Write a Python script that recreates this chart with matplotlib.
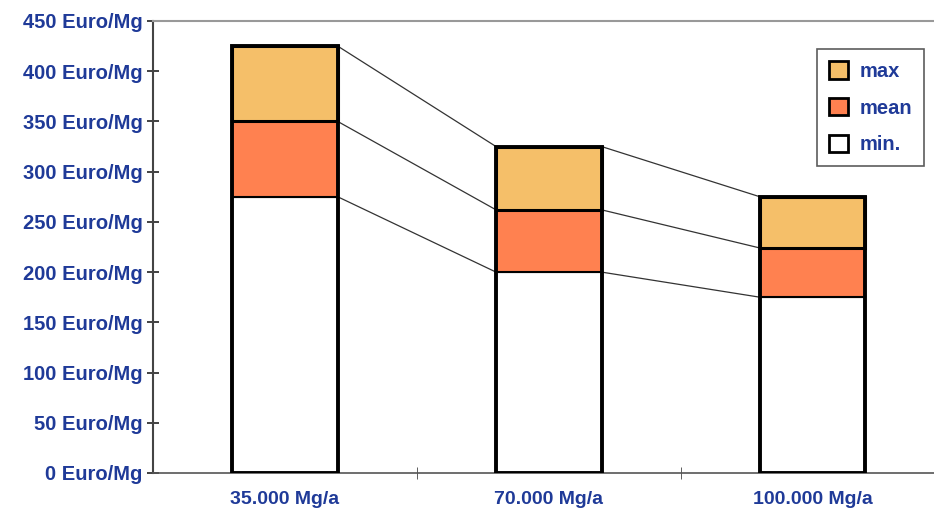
import matplotlib.pyplot as plt
from matplotlib.patches import Patch
import numpy as np

# Treatment cost ranges per plant capacity
capacities = ["35.000 Mg/a", "70.000 Mg/a", "100.000 Mg/a"]
cost_min = [275, 200, 175]
cost_mean = [350, 262, 224]
cost_max = [425, 325, 275]

TEXT_BLUE = "#1F3A98"
MAX_COLOR = "#F5BF69"
MEAN_COLOR = "#FF8150"

plt.rcParams["font.family"] = ["Liberation Sans", "DejaVu Sans"]

fig = plt.figure(figsize=(9.34, 5.18), dpi=100)
ax = fig.add_axes([0.1638, 0.0869, 0.8475, 0.8726])

x = np.arange(len(capacities))
width = 0.4
lo = np.array(cost_min)
mid = np.array(cost_mean)
hi = np.array(cost_max)

# stacked segments
ax.bar(x, lo, width, color="white", edgecolor="black", linewidth=1.5, zorder=2)
ax.bar(x, mid - lo, width, bottom=lo, color=MEAN_COLOR, edgecolor="black",
       linewidth=1.5, zorder=2)
ax.bar(x, hi - mid, width, bottom=mid, color=MAX_COLOR, edgecolor="black",
       linewidth=2.2, zorder=2)
# heavy outline around each whole bar
ax.bar(x, hi, width, fill=False, edgecolor="black", linewidth=2.8, zorder=3)

# connector lines between neighbouring bars
for series in (lo, mid, hi):
    for i in range(len(x) - 1):
        ax.plot([x[i] + width / 2, x[i + 1] - width / 2],
                [series[i], series[i + 1]], color="#333333", lw=0.9, zorder=1)

ax.set_xlim(-0.5, len(x) - 0.5)
ax.set_ylim(0, 450)

ax.set_yticks(np.arange(0, 451, 50))
ax.set_yticklabels([f"{v} Euro/Mg" for v in range(0, 451, 50)])
ax.set_xticks(x)
ax.set_xticklabels(capacities)
ax.set_xticks([0.5, 1.5], minor=True)

ax.tick_params(axis="y", direction="inout", length=9, width=1.2, color="#222222",
               labelsize=14.5, labelcolor=TEXT_BLUE, pad=3)
ax.tick_params(axis="x", which="major", length=0, pad=13, labelsize=14,
               labelcolor=TEXT_BLUE)
ax.tick_params(axis="x", which="minor", direction="inout", length=9, color="#444444")
for lab in ax.get_xticklabels() + ax.get_yticklabels():
    lab.set_fontweight("bold")

ax.spines["left"].set_color("#444444")
ax.spines["left"].set_linewidth(1.5)
ax.spines["bottom"].set_color("#555555")
ax.spines["bottom"].set_linewidth(1.2)
ax.spines["top"].set_color("#999999")
ax.spines["top"].set_linewidth(1.5)
ax.spines["right"].set_visible(False)

handles = [
    Patch(facecolor=MAX_COLOR, edgecolor="black", linewidth=2, label="max"),
    Patch(facecolor=MEAN_COLOR, edgecolor="black", linewidth=2, label="mean"),
    Patch(facecolor="white", edgecolor="black", linewidth=2, label="min."),
]
leg = fig.legend(handles=handles, loc="upper left", bbox_to_anchor=(0.875, 0.905),
                 borderaxespad=0, frameon=True, fancybox=False, edgecolor="#333333",
                 handlelength=0.95, handleheight=0.95, handletextpad=0.55,
                 labelspacing=0.85, borderpad=0.6, prop={"size": 14.5, "weight": "bold"})
leg.get_frame().set_linewidth(1.2)
for t in leg.get_texts():
    t.set_color(TEXT_BLUE)

fig.savefig("out.png", dpi=100)
